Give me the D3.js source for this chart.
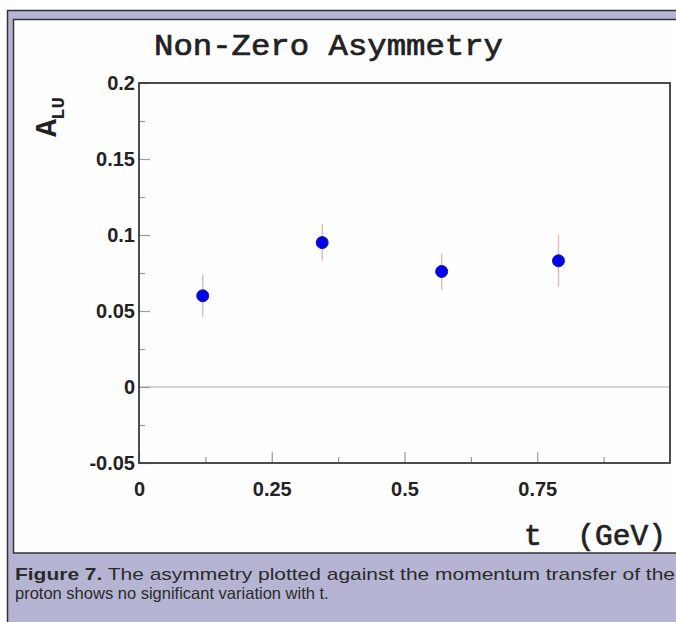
<!DOCTYPE html>
<html>
<head>
<meta charset="utf-8">
<script src="https://cdn.jsdelivr.net/npm/d3@7"></script>
<style>
  body { margin: 0; background: #fff; }
  svg { display: block; }
</style>
</head>
<body>
<div id="chart"></div>
<script>
// data
var tValues = [0.12, 0.345, 0.57, 0.79];
var asymValues = [0.060, 0.095, 0.076, 0.083];
var asymErrors = [0.014, 0.012, 0.012, 0.017];
var xTickValues = [0, 0.25, 0.5, 0.75];
var yTickValues = [-0.05, 0, 0.05, 0.1, 0.15, 0.2];
var captionBold = "Figure 7.";
var captionLine1 = " The asymmetry plotted against the momentum transfer of the";
var captionLine2 = "proton shows no significant variation with t.";

var W = 676, H = 622;
var margin = {top: 83, right: 5, bottom: 159, left: 139},
    width = W - margin.left - margin.right,
    height = H - margin.top - margin.bottom;

var svg = d3.select("#chart")
  .append("svg")
    .attr("width", W)
    .attr("height", H);

// lavender figure box + white panel
svg.append("rect")
    .attr("x", 7.5).attr("y", 10.5)
    .attr("width", W).attr("height", H)
    .style("fill", "#b5b5d3")
    .style("stroke", "#333")
    .style("stroke-width", 1.5);
svg.append("rect")
    .attr("x", 13.5).attr("y", 19.5)
    .attr("width", W).attr("height", 553 - 19.5)
    .style("fill", "#fefefe")
    .style("stroke", "#333")
    .style("stroke-width", 1.5);

var g = svg.append("g")
    .attr("transform", "translate(" + margin.left + "," + margin.top + ")");

var x = d3.scaleLinear().domain([0, 1]).range([0, width - 1]);
var y = d3.scaleLinear().domain([-0.05, 0.2]).range([height, 0]);

// zero line
g.append("line")
    .attr("x1", 0).attr("x2", x(1))
    .attr("y1", y(0)).attr("y2", y(0))
    .style("stroke", "#a8a8a8")
    .style("stroke-width", 1.2);

// minor ticks
var yMinor = d3.range(-0.025, 0.2, 0.05);
var xMinor = d3.range(0.125, 1, 0.25);
g.append("g")
    .call(d3.axisLeft(y).tickValues(yMinor).tickSize(-6).tickFormat(""));
g.append("g")
    .attr("transform", "translate(0," + height + ")")
    .call(d3.axisBottom(x).tickValues(xMinor).tickSize(-6).tickFormat(""));

// major ticks + labels (plain hyphen for the minus sign)
var fmt = function(d) { return d3.format("~g")(d).replace("\u2212", "-"); };
g.append("g")
    .call(d3.axisLeft(y).tickValues(yTickValues).tickSize(-11).tickPadding(4).tickFormat(fmt));
g.append("g")
    .attr("transform", "translate(0," + height + ")")
    .call(d3.axisBottom(x).tickValues(xTickValues).tickSize(-11).tickPadding(19).tickFormat(fmt));

svg.selectAll(".domain").remove();
svg.selectAll(".tick line").style("stroke", "#9a9a9a").style("stroke-width", 1.2);
svg.selectAll(".tick text")
    .style("font-family", "'Liberation Sans', Arial, sans-serif")
    .style("font-weight", "bold")
    .style("font-size", "20px")
    .style("fill", "#222");

// frame
g.append("rect")
    .attr("x", 0).attr("y", 0)
    .attr("width", x(1)).attr("height", height)
    .style("fill", "none")
    .style("stroke", "#3a3a3a")
    .style("stroke-width", 1.8);

// error bars
var pts = tValues.map(function(t, i) { return {t: t, a: asymValues[i], e: asymErrors[i]}; });
g.selectAll(".err")
  .data(pts)
  .enter()
  .append("line")
    .attr("class", "err")
    .attr("x1", function(d) { return x(d.t); })
    .attr("x2", function(d) { return x(d.t); })
    .attr("y1", function(d) { return y(d.a - d.e); })
    .attr("y2", function(d) { return y(d.a + d.e); })
    .style("stroke", "#dcc0b4")
    .style("stroke-width", 1.5);

g.selectAll(".dot")
  .data(pts)
  .enter()
  .append("circle")
    .attr("class", "dot")
    .attr("cx", function(d) { return x(d.t); })
    .attr("cy", function(d) { return y(d.a); })
    .attr("r", 6)
    .style("fill", "#0000ec")
    .style("stroke", "#1a1a9a")
    .style("stroke-width", 1);

var mono = "'Liberation Mono', 'Courier New', monospace";

// title
svg.append("text")
    .attr("x", 154).attr("y", 55)
    .attr("textLength", 349)
    .attr("lengthAdjust", "spacingAndGlyphs")
    .style("font-family", mono)
    .style("font-size", "29px")
    .style("fill", "#222")
    .style("stroke", "#222")
    .style("stroke-width", 0.7)
    .text("Non-Zero Asymmetry");

// y label A_LU
var yl = svg.append("text")
    .attr("transform", "translate(56,137) rotate(-90)")
    .style("font-family", mono)
    .style("font-weight", "bold")
    .style("fill", "#222");
yl.append("tspan").style("font-size", "30px").text("A");
yl.append("tspan").attr("dy", 8).attr("dx", -1).style("font-size", "19px").text("LU");

// x label
svg.append("text")
    .attr("x", 524).attr("y", 545)
    .attr("textLength", 142)
    .attr("lengthAdjust", "spacingAndGlyphs")
    .style("font-family", mono)
    .style("font-size", "29px")
    .style("fill", "#222")
    .style("stroke", "#222")
    .style("stroke-width", 0.7)
    .style("white-space", "pre")
    .text("t  (GeV)");

// caption
var cap = svg.append("g")
    .style("font-family", "'Liberation Sans', Arial, sans-serif")
    .style("fill", "#2a2a2a");
var c1 = cap.append("text").attr("x", 15).attr("y", 580)
    .style("font-size", "17px")
    .attr("textLength", 660)
    .attr("lengthAdjust", "spacingAndGlyphs");
c1.append("tspan").style("font-weight", "bold").text(captionBold);
c1.append("tspan").text(captionLine1);
cap.append("text").attr("x", 15).attr("y", 599)
    .style("font-size", "16.5px")
    .text(captionLine2);
</script>
</body>
</html>
